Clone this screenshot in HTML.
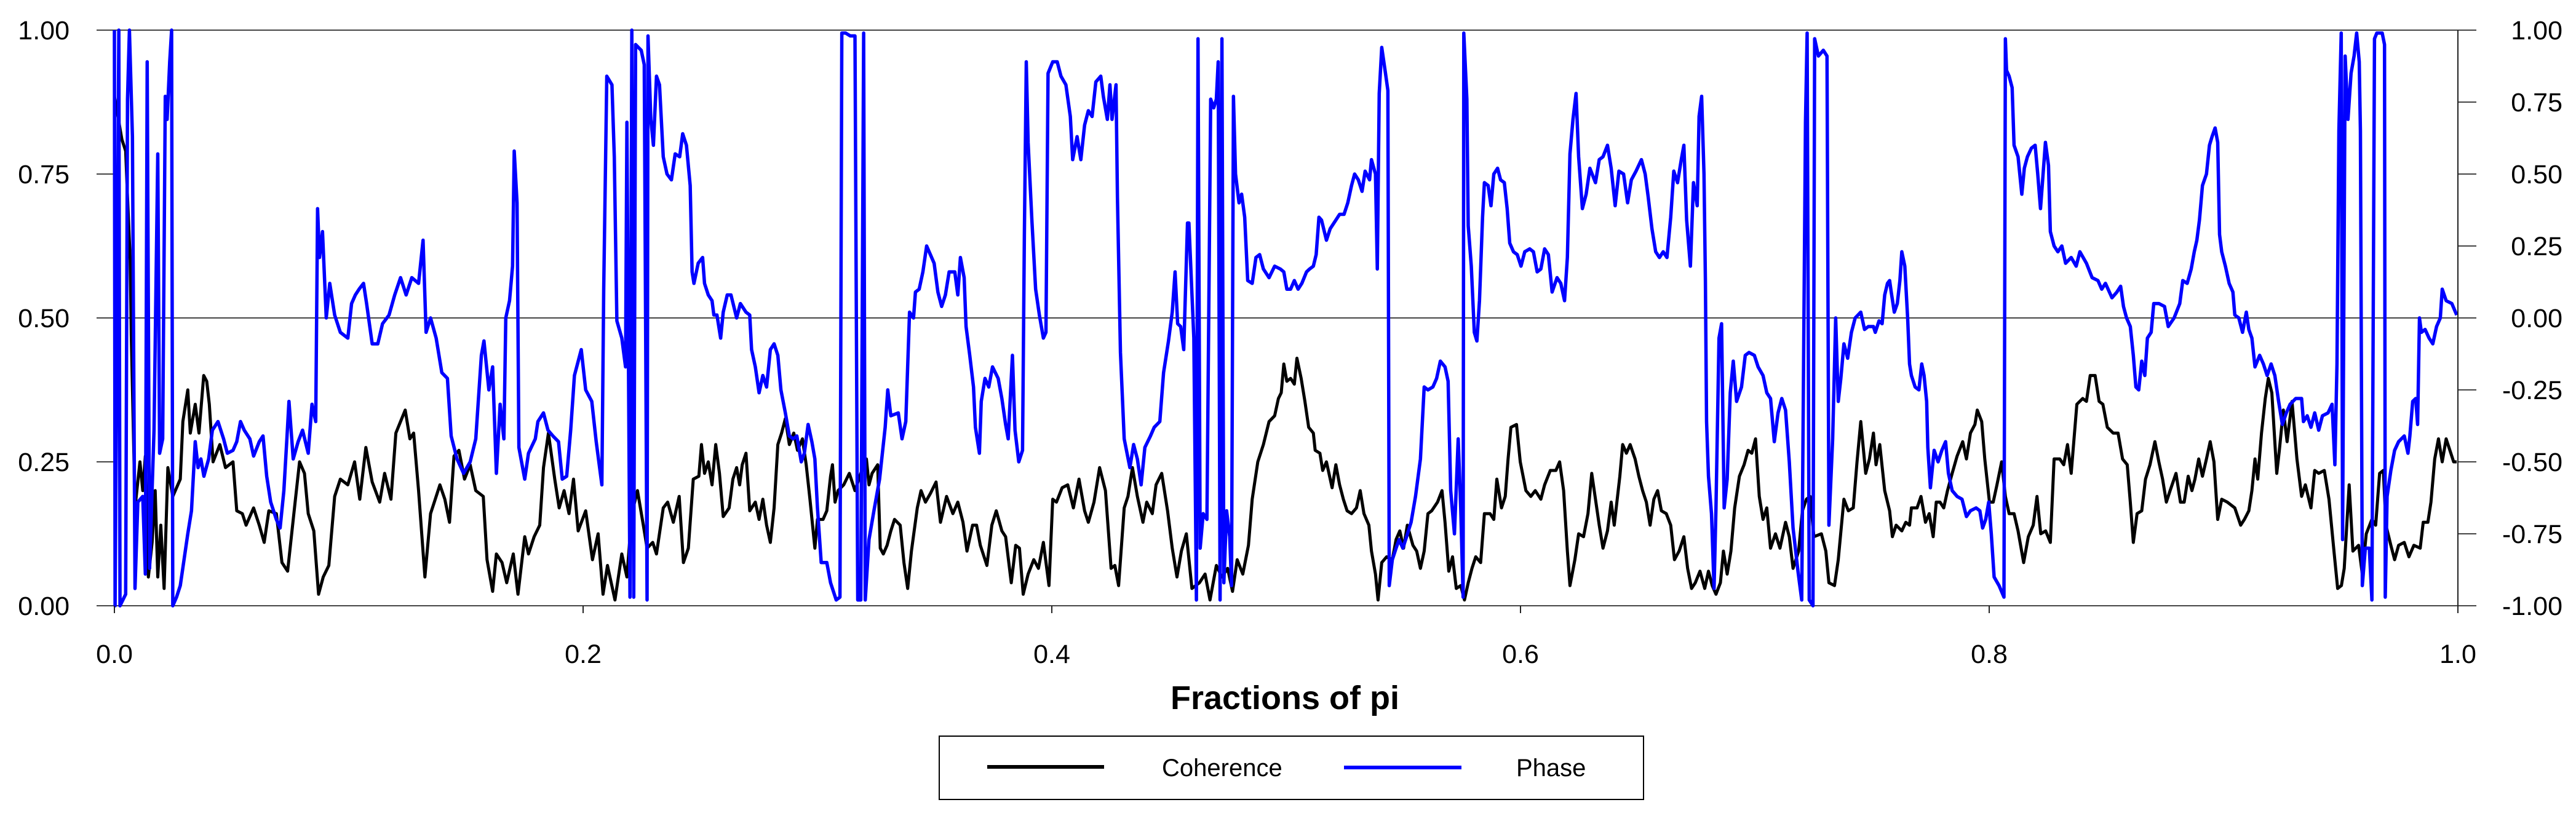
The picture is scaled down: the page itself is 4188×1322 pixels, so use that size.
<!DOCTYPE html>
<html><head><meta charset="utf-8"><style>
html,body{margin:0;padding:0;background:#fff;}
svg{display:block;font-family:"Liberation Sans",Arial,sans-serif;}
</style></head>
<body>
<svg id="chart" width="4188" height="1322" viewBox="0 0 4188 1322" xmlns="http://www.w3.org/2000/svg">
<g id="grid"></g>
<g id="series"></g>
<g id="axes"></g>
<text x="2089" y="1153" font-size="54" font-weight="bold" text-anchor="middle">Fractions of pi</text>
<g>
<rect x="1527" y="1197" width="1145" height="103" fill="#fff" stroke="#000" stroke-width="2"/>
<line x1="1605" y1="1247" x2="1795" y2="1247" stroke="#000" stroke-width="6"/>
<text x="1889" y="1262" font-size="40">Coherence</text>
<line x1="2185" y1="1248" x2="2376" y2="1248" stroke="#0000ff" stroke-width="6"/>
<text x="2465" y="1262" font-size="40">Phase</text>
</g>
</svg>
<script>
// x in thousandths of pi
const cohX=[0,3.2,4.8,5.6,6.75,7.2,8,8.8,10.9,12.1,13.2,14.5,16.1,17.4,18.5,19.8,21.2,22.8,24.9,28.1,29.2,31.3,32.4,34.5,36.1,38.1,39.4,40.5,42.1,45,47.4,50.6,52.2,54.6,56.2,59.4,61.8,63.9,65.9,69.1,71.5,73.9,77.1,79,81.1,82.7,85.1,87.1,89.1,91.5,94,96.4,99.6,102.5,104.7,107.3,110,113.2,115.3,118,120.1,122.1,124.1,126.1,127.7,129.8,132.5,134.9,136.5,138.9,141,143,144.9,147,149.4,151.8,154.2,157.4,159,161.4,163,165.4,167.4,170.2,172.2,175.1,176.7,179.1,181.5,183.1,185.2,187.9,189.8,191.9,194,195.9,197.9,201.1,204,206.4,208.5,210.4,213.6,216.5,218.7,220.8,223.2,225.7,227.3,229.7,231.3,234.2,236.1,238.5,241,242.8,244.9,247,
249.4,250.5,251.8,253.4,255,256.6,258.2,259.8,262.3,263.9,265.5,266.8,267.9,269.5,271.1,273.5,275.1,276.7,278.3,279.9,281.5,283.1,284.7,286.3,288,289.9,291.5,293.6,295.2,296.8,298.9,300,302.4,304,305.6,306.4,307.5,308.8,311.2,313.6,316,318.5,320.9,322,323.3,325.7,326.8,328.1,329.7,331.3,332.9,335.3,336.9,338.5,340.1,342.6,344.2,346.1,348.2,350.6,352.5,355.1,357.8,359.9,362.1,363.8,366.2,367.9,369.5,372.3,374.4,376.3,378.7,380.3,382.7,384.6,386.2,387.8,389.9,392.3,394.3,396.4,398.8,400.4,402,404.4,406.8,409.2,411.6,414,415.6,418,420.4,422.9,425.3,426.9,428.5,430.9,432.5,434.4,436.5,438.9,440.5,442.9,444.5,446.9,449.4,451.4,453.4,455.3,457.4,459.8,463,465.4,467.5,470.2,472.6,475,477.1,479.1,481.5,483.9,485.5,487.9,490.3,492.7,495.1,496.7,
497.9,499,500.3,501.9,503.5,504.6,506.4,508,509.6,511.6,512.4,514.4,515.6,517.2,519.6,521.2,522.8,524.4,526,527.9,530,531.6,533.2,535.3,536.4,538.1,539.2,540.8,542.9,545.3,546.9,548.5,550.1,551.7,554.1,555.7,557.3,558.9,560.5,562.1,564.6,566.5,567.8,569.4,571,572.6,574.5,576.1,577.7,579.3,580.9,583,584.6,587,588.6,589.9,591.9,593.5,594.7,595.9,598.3,599.9,602.3,604.4,606.3,608.7,610.3,612.7,615.1,616.7,618.4,620,621.1,623.2,624.8,626.9,628.8,630.4,632,633.6,635.2,637.1,638.7,640,642.4,643.6,645.2,646.8,648.9,650.5,652.1,653.7,655.3,656.9,658.5,660.1,662.2,664.1,665.7,667.7,669.7,671.3,673,674.6,676.6,678.6,680.2,681.8,683.4,685.3,686.6,688.2,689.8,691.4,693.4,695.4,697.1,698.7,700.3,701.9,703.5,705.1,706.7,708.8,710.7,713.1,714.7,716.3,718.7,720.3,722,723.6,725.2,728.4,730.3,731.6,734,735.6,738,739.9,742,743.6,745.2,
747.3,748.9,750.6,751.7,753.3,755.4,757.5,758.7,760.3,762.7,764.4,766,766.8,769.2,770.9,772.8,774.4,776.1,777.4,779,780.6,782.2,784.2,786.3,788.7,790.3,792,793.9,794.9,796.8,798.1,800.1,801.7,803.3,805.3,806.9,808.5,810.6,812.3,814.7,816.7,818.8,820.4,822,824.1,826.1,827.7,830.1,831.8,833.4,835,837.4,839.9,841.5,843.1,845.2,846.9,848.5,850.4,852.9,855,856.9,858.9,860.2,861.5,863.1,865.1,866.7,868.6,870.7,872.4,874,875.6,877.2,879.7,881.6,883.2,884.9,886.5,887.8,889.4,891,892.7,894.3,895.9,897.5,899.2,901.6,904.8,907.3,908.9,910.8,912.1,913.4,914.6,916.2,917.8,919.1,920.6,922.7,923.8,925.5,927.1,929.2,931.3,933.3,934.9,937.3,938.9,940.6,943,945,947.1,948.7,950.3,951.5,953.6,955.2,957.6,959.2,960.9,963.3,964.9,966.6,968.2,969.3,971.4,973,974.7,977.1,979.1,981.2,983.9,985.2,987.2,988.5,990.1,991.7,993.3,995,996.6,998.2,999.5];
const cohY=[0.885,0.81,0.79,0.71,0.6,0.47,0.32,0.17,0.25,0.2,0.26,0.05,0.11,0.2,0.05,0.14,0.03,0.24,0.19,0.22,0.32,0.375,0.3,0.35,0.3,0.4,0.39,0.35,0.25,0.28,0.24,0.25,0.165,0.16,0.14,0.17,0.14,0.11,0.165,0.16,0.075,0.06,0.18,0.25,0.23,0.16,0.13,0.02,0.05,0.07,0.19,0.22,0.21,0.25,0.185,0.275,0.215,0.18,0.23,0.185,0.3,0.32,0.34,0.29,0.3,0.2,0.05,0.16,0.18,0.21,0.185,0.145,0.26,0.27,0.22,0.245,0.2,0.19,0.08,0.025,0.09,0.075,0.04,0.09,0.02,0.12,0.09,0.12,0.14,0.24,0.3,0.22,0.17,0.2,0.16,0.22,0.13,0.165,0.08,0.125,0.02,0.07,0.01,0.09,0.05,0.16,0.2,0.14,0.1,0.11,0.09,0.17,0.18,0.145,0.19,0.075,0.1,0.22,
0.225,0.28,0.23,0.25,0.21,0.28,0.23,0.155,0.17,0.22,0.24,0.21,0.245,0.265,0.165,0.18,0.15,0.185,0.14,0.11,0.17,0.28,0.3,0.325,0.28,0.3,0.27,0.29,0.245,0.185,0.1,0.15,0.15,0.165,0.225,0.245,0.18,0.2,0.21,0.23,0.2,0.23,0.255,0.21,0.23,0.245,0.1,0.09,0.105,0.13,0.15,0.14,0.075,0.03,0.095,0.17,0.2,0.18,0.195,0.215,0.145,0.19,0.16,0.18,0.145,0.095,0.14,0.14,0.105,0.07,0.14,0.165,0.13,0.12,0.04,0.105,0.1,0.02,0.055,0.08,0.065,0.11,0.035,0.185,0.18,0.205,0.21,0.17,0.22,0.165,0.145,0.18,0.24,0.2,0.065,0.07,0.035,0.17,0.19,0.24,0.19,0.145,0.18,0.16,0.21,0.23,0.165,0.1,0.05,0.095,0.125,0.03,0.04,0.055,0.01,0.07,0.05,0.065,0.025,0.08,0.055,0.105,0.185,0.25,0.28,0.32,0.33,0.36,
0.37,0.42,0.39,0.395,0.385,0.43,0.395,0.355,0.31,0.3,0.27,0.265,0.235,0.25,0.205,0.245,0.21,0.185,0.165,0.16,0.17,0.2,0.16,0.14,0.095,0.055,0.01,0.075,0.085,0.08,0.115,0.13,0.1,0.14,0.105,0.095,0.065,0.095,0.16,0.165,0.18,0.2,0.145,0.06,0.085,0.03,0.035,0.01,0.04,0.065,0.085,0.075,0.16,0.16,0.15,0.22,0.17,0.19,0.255,0.31,0.315,0.25,0.2,0.19,0.2,0.185,0.21,0.235,0.235,0.25,0.2,0.095,0.035,0.08,0.125,0.12,0.16,0.23,0.185,0.14,0.1,0.13,0.18,0.14,0.225,0.28,0.265,0.28,0.255,0.225,0.2,0.18,0.14,0.185,0.2,0.165,0.16,0.14,0.08,0.095,0.12,0.065,0.03,0.04,0.06,0.03,0.06,0.035,0.02,0.04,0.095,0.055,0.095,0.17,0.225,0.245,0.27,0.265,0.29,0.19,0.15,0.17,0.1,0.125,0.1,0.145,0.12,0.065,0.095,0.165,0.185,0.19,0.12,0.125,0.095,0.04,0.035,0.08,0.185,0.165,0.17,0.25,0.32,
0.23,0.255,0.3,0.245,0.28,0.2,0.165,0.12,0.14,0.13,0.145,0.14,0.17,0.17,0.19,0.145,0.16,0.12,0.18,0.18,0.17,0.2,0.23,0.26,0.285,0.255,0.3,0.315,0.34,0.32,0.255,0.18,0.18,0.21,0.25,0.19,0.16,0.16,0.13,0.075,0.12,0.14,0.19,0.125,0.13,0.11,0.255,0.255,0.245,0.28,0.23,0.35,0.36,0.355,0.4,0.4,0.355,0.35,0.31,0.3,0.3,0.255,0.245,0.18,0.11,0.16,0.165,0.22,0.245,0.285,0.25,0.22,0.18,0.2,0.23,0.18,0.18,0.225,0.2,0.22,0.255,0.225,0.255,0.285,0.25,0.15,0.185,0.18,0.17,0.14,0.15,0.165,0.2,0.255,0.22,0.3,0.36,0.395,0.37,0.23,0.27,0.34,0.285,0.355,0.255,0.19,0.21,0.17,0.235,0.23,0.235,0.185,0.095,0.03,0.035,0.065,0.21,0.095,0.105,0.055,0.125,0.15,0.14,0.23,0.235,0.14,0.105,0.08,0.105,0.11,0.085,0.105,0.1,0.145,0.145,0.18,0.255,0.29,0.25,0.29,0.27,0.25,0.25];
const phaseX=[0,0.3,1.9,2.4,4.8,5.6,6.4,7.7,8.8,10,12.1,13.2,14,15,16.9,18.5,19.3,20.6,21.7,22.5,23.6,24.4,24.9,26.5,28.1,29.7,31.3,32.9,34.5,35.7,36.9,38.2,40.2,41.8,44.2,46.6,48.2,50.6,52.2,53.8,55.4,57.8,59.4,61.8,63.4,65,66.7,69.1,70.7,72.3,73.6,74.5,76.3,78.4,80.3,82.7,84.3,85.9,86.7,87.5,88.8,90.4,91.9,94,96.4,99.6,101.2,102.8,104.4,106.3,107.6,110,112.4,114.4,117.2,119.6,122.1,124.5,126.9,129.8,131.7,133,134.9,137.3,139.7,142.1,143.7,146.2,149,151.8,154.2,156.6,157.7,159.8,161.4,163,164.6,166.2,167,168.6,169.9,170.6,171.8,172.6,175.1,176.7,179.6,180.7,183.1,185,187.1,189.5,191.1,193,194.7,196.3,199.2,201.1,203.7,205.6,208,208.8,210.1,212.3,213.3,214.4,216.5,218.1,218.7,220,220.8,221.6,222.4,224.8,226.1,227.3,227.7,228.9,230,231.3,232.6,234.2,235.8,237.7,239.3,241.2,242.5,244.1,245.7,246.5,247.3,
249.1,251,251.8,253.4,255,255.8,257.1,258.7,259.8,261.5,263.1,265.5,267.1,269.5,271.1,271.9,273.5,275.1,276.7,278.3,279.9,281.5,283.1,284.4,286.3,288,289.6,291.2,293.1,294.4,296,297.6,298.9,300,301.6,304,305.6,308,309.6,310.4,312,314,316,317.2,318.5,319.7,320.4,322,324.1,326.5,328.9,330,331.3,334.5,336.1,337.7,339.3,341,341.8,343.4,345,346.6,348.2,349.8,351.4,353,354.6,356.2,358.6,359.9,361,362.6,363.4,365,366.6,367.4,369.1,369.9,371.5,373.1,374.7,377.1,378.7,380.3,381.4,383.2,384.3,385.9,387.5,388.3,389.1,389.9,391.5,393.1,394.7,396.4,397.5,398.4,400.4,402.3,403.9,406,407.9,408.9,410.8,412.4,414,415.6,417.2,418.8,420.9,422,423.7,424.8,425.7,427.4,428,429.3,430.9,433.3,434.9,436.5,438.1,439.7,442.1,443.7,446.1,447.7,449.8,451.4,452.6,453.7,455,456.3,457.9,458.5,460.6,461.7,462.4,463.3,464.6,466.2,467.8,469.1,470.2,471,471.8,472.6,473.4,474.6,475.9,476.7,477.5,478.4,479.9,481,482.3,483.6,485.5,487.1,488.7,490.3,492.7,495.1,497.5,
499,500.3,501.9,503.5,505.1,506.7,508.7,510,511.6,512.8,514,515.1,517.2,518.8,521.2,522.8,524.7,526.3,527.9,529.2,530.8,532.4,533.7,535.6,536.4,538.1,538.9,539.7,540.8,542.4,543.4,544,545.3,546.9,548.2,549.8,551.4,553.3,555.2,557.3,558.9,560.5,562.6,564.2,565.8,567.8,569.1,570.2,571.8,573.4,574.5,575.5,575.8,577.1,577.7,579,580.3,581.4,582.5,583.8,584.6,586.2,587.4,588.6,590.2,591.5,593.1,594.3,595.4,597,598.6,600.2,601.8,603.9,605.5,607.1,608.7,610.3,611.9,613.5,615.6,617.2,618.8,620,621.1,622.4,623.7,624.8,626.4,628,629.6,632,633.6,635.2,637.1,638.7,640.4,642,644,645.7,647.3,649.3,651.6,653.2,654.5,656.1,657.7,659.3,660.9,662.5,664.1,665.4,667,668.6,669.7,670.9,672.5,673.8,675.4,676.2,677.3,678.3,678.9,679.4,680.2,681.5,682.6,683.4,684.7,685.8,686.9,688.2,689.5,690.8,692.2,694.3,695.9,697.5,699.8,701.4,703.5,705.1,706.7,708.3,709.9,711.5,713.1,714.7,716.3,718.4,720,721.6,722.3,723.2,724.8,725.5,727.1,729.2,730.8,731.6,733.2,734.5,735.6,736.7,738,739.6,741.2,742.8,745.2,746.8,
748.4,750.6,751.4,753,754.3,755.4,756.6,757.5,758.2,759.5,760.8,761.9,762.7,764,765.2,766,766.8,768.4,770,771.2,772.2,773.3,773.8,774.9,776.5,778.2,779.8,781.4,782.6,784.2,786.3,788.4,790.3,792,794.4,796,797.2,798.5,799.8,800.9,802.1,804.2,806.3,806.9,807.4,808.5,809.8,810.6,812.3,813.9,815,816.3,818,819.6,820.7,821.9,822.8,824,825.3,826.1,827.7,829.3,831,832.6,835,837.1,838.7,841.5,843.9,846.4,848,849.6,852.4,854.5,856.1,857.3,858.6,860.2,861.5,862.6,863.8,865.1,866.4,867.5,869.1,870.2,872.4,874.8,876.4,878.9,881.3,882.6,884.5,886.2,887.5,888.6,889.7,891,892.7,894,895.1,896.4,897.5,898.3,899.2,900.8,902.4,904,904.8,906.5,908.1,909.7,910.8,912.1,913.4,915.4,917,918.6,920.3,921.9,923.5,925.1,926.8,928.4,930.8,933.3,934.1,935.7,937.3,938.9,940.6,942.2,944.6,946.3,947.5,948.4,949.2,950.2,950.8,951.9,953.1,954.4,955.7,956.8,957.9,958.4,959.2,960.5,962.2,963.3,964.4,965.4,967.7,968.7,969,969.8,971.4,973,974.7,977.1,978.7,979.5,980.7,982,982.8,983.6,984.4,986,987.7,989.3,990.9,992.5,993.3,995,997.4,999.5];
const phaseY=[1,-1,1,-1,-0.96,0.76,1,0.63,-0.94,-0.64,-0.62,-0.89,0.89,-0.87,-0.39,0.57,-0.47,-0.42,0.77,0.69,0.89,1,-1,-0.97,-0.93,-0.84,-0.75,-0.67,-0.43,-0.52,-0.49,-0.55,-0.49,-0.39,-0.36,-0.42,-0.47,-0.46,-0.43,-0.36,-0.39,-0.42,-0.48,-0.43,-0.41,-0.55,-0.64,-0.7,-0.73,-0.6,-0.42,-0.29,-0.49,-0.43,-0.39,-0.47,-0.3,-0.36,0.38,0.21,0.3,0,0.12,0.01,-0.05,-0.07,0.05,0.08,0.1,0.12,0.05,-0.09,-0.09,-0.02,0.01,0.08,0.14,0.08,0.14,0.12,0.27,-0.05,0,-0.07,-0.19,-0.21,-0.41,-0.49,-0.54,-0.5,-0.42,-0.13,-0.08,-0.25,-0.17,-0.54,-0.3,-0.42,0,0.06,0.18,0.58,0.4,-0.45,-0.56,-0.47,-0.42,-0.36,-0.33,-0.39,-0.41,-0.43,-0.56,-0.55,-0.39,-0.2,-0.11,-0.25,-0.29,-0.43,-0.58,0.1,0.84,0.81,0.56,-0.01,-0.07,-0.17,0.68,-0.97,1,-0.97,0.95,0.93,0.88,-0.98,0.98,0.69,0.6,0.84,0.81,0.56,0.5,0.48,0.57,0.56,0.64,0.6,0.46,0.16,0.12,
0.19,0.21,0.12,0.08,0.06,0.01,0.01,-0.07,0.02,0.08,0.08,0,0.05,0.02,0.01,-0.11,-0.17,-0.26,-0.2,-0.24,-0.11,-0.09,-0.13,-0.25,-0.33,-0.41,-0.42,-0.41,-0.5,-0.47,-0.37,-0.43,-0.49,-0.66,-0.85,-0.85,-0.92,-0.98,-0.97,0.99,0.99,0.98,0.98,-0.98,-0.98,0.99,-0.98,-0.77,-0.67,-0.56,-0.38,-0.25,-0.34,-0.33,-0.42,-0.36,0.02,0,0.09,0.1,0.16,0.25,0.22,0.19,0.09,0.04,0.08,0.16,0.16,0.08,0.21,0.14,-0.03,-0.13,-0.24,-0.38,-0.47,-0.29,-0.21,-0.24,-0.17,-0.21,-0.28,-0.37,-0.42,-0.13,-0.39,-0.5,-0.46,0.29,0.89,0.61,0.34,0.1,0.01,-0.07,-0.05,0.85,0.89,0.89,0.84,0.81,0.7,0.55,0.63,0.55,0.67,0.72,0.7,0.82,0.84,0.77,0.69,0.81,0.69,0.81,0.42,-0.12,-0.42,-0.52,-0.44,-0.49,-0.58,-0.45,-0.41,-0.38,-0.36,-0.19,-0.08,0.02,0.16,-0.02,-0.03,-0.11,0.33,0.33,-0.07,-0.98,0.97,-0.8,-0.68,-0.7,0.76,0.73,0.76,0.89,-0.98,0.97,-0.92,-0.67,-0.76,-0.93,0.77,0.5,0.4,0.43,0.35,0.13,0.12,0.21,0.22,0.17,0.14,0.18,0.17,
0.16,0.1,0.1,0.13,0.1,0.12,0.16,0.17,0.18,0.22,0.35,0.34,0.27,0.31,0.34,0.36,0.36,0.4,0.46,0.5,0.48,0.44,0.51,0.48,0.55,0.5,0.17,0.78,0.94,0.85,0.79,-0.93,-0.84,-0.8,-0.77,-0.8,-0.76,-0.71,-0.62,-0.49,-0.24,-0.25,-0.24,-0.21,-0.15,-0.17,-0.22,-0.6,-0.75,-0.42,-0.66,-0.97,0.99,0.76,0.32,0.18,-0.05,-0.08,0.06,0.35,0.47,0.46,0.39,0.5,0.52,0.48,0.47,0.38,0.26,0.23,0.22,0.18,0.23,0.24,0.23,0.16,0.17,0.24,0.22,0.09,0.14,0.12,0.06,0.21,0.57,0.69,0.78,0.56,0.38,0.43,0.52,0.47,0.55,0.56,0.6,0.52,0.39,0.51,0.5,0.4,0.48,0.51,0.55,0.5,0.42,0.31,0.23,0.21,0.23,0.21,0.35,0.51,0.47,0.55,0.6,0.34,0.18,0.47,0.39,0.7,0.77,0.5,0.13,-0.36,-0.55,-0.68,-0.94,-0.66,-0.07,-0.02,-0.66,-0.56,-0.26,-0.15,-0.29,-0.24,-0.13,-0.12,-0.13,-0.17,-0.2,-0.26,-0.28,-0.43,-0.33,-0.28,-0.32,-0.5,-0.73,-0.88,-0.98,0.68,0.99,-0.98,-1,0.97,0.91,0.93,0.91,-0.72,-0.42,0,-0.29,-0.21,-0.09,-0.14,-0.05,0,0.02,-0.04,
-0.03,-0.03,-0.05,-0.01,-0.02,0.08,0.12,0.13,0.09,0.02,0.05,0.13,0.23,0.18,0,-0.16,-0.2,-0.24,-0.25,-0.16,-0.2,-0.29,-0.45,-0.59,-0.46,-0.5,-0.46,-0.43,-0.54,-0.6,-0.62,-0.63,-0.69,-0.67,-0.66,-0.67,-0.73,-0.7,-0.64,-0.75,-0.9,-0.93,-0.97,0.97,0.86,0.84,0.8,0.6,0.56,0.43,0.52,0.56,0.59,0.6,0.5,0.38,0.48,0.61,0.53,0.3,0.25,0.23,0.25,0.19,0.21,0.18,0.23,0.19,0.14,0.13,0.1,0.12,0.07,0.09,0.11,0.04,0,-0.03,-0.13,-0.24,-0.25,-0.15,-0.2,-0.07,-0.05,0.05,0.05,0.04,-0.03,0,0.05,0.13,0.12,0.17,0.23,0.27,0.34,0.46,0.5,0.6,0.63,0.66,0.61,0.29,0.23,0.18,0.12,0.09,0.01,0,-0.05,0.02,-0.04,-0.07,-0.17,-0.13,-0.16,-0.2,-0.16,-0.2,-0.29,-0.37,-0.33,-0.3,-0.28,-0.28,-0.36,-0.34,-0.38,-0.33,-0.39,-0.34,-0.33,-0.3,-0.51,-0.16,0.65,0.99,-0.77,0.91,0.69,0.85,0.91,0.99,0.89,0.65,-0.93,-0.8,-0.8,-0.98,0.97,0.99,0.99,0.95,-0.97,-0.62,-0.53,-0.46,-0.43,-0.41,-0.47,-0.41,-0.29,-0.28,-0.37,0,-0.05,-0.04,-0.07,-0.09,-0.03,0,0.1,0.06,0.05,0.01];
const leftTicks=["0.00","0.25","0.50","0.75","1.00"];
const rightTicks=["-1.00","-0.75","-0.50","-0.25","0.00","0.25","0.50","0.75","1.00"];
const xTicks=["0.0","0.2","0.4","0.6","0.8","1.0"];

const L=186,R=3996,T=49,B=985;
const NS="http://www.w3.org/2000/svg";
const xS=v=>L+(v/1000)*(R-L);
const yL=v=>B-v*(B-T);
const yR=v=>B-(v+1)/2*(B-T);
function mk(tag,attrs,parent){const e=document.createElementNS(NS,tag);for(const k in attrs)e.setAttribute(k,attrs[k]);parent.appendChild(e);return e;}
const grid=document.getElementById('grid'),axes=document.getElementById('axes'),ser=document.getElementById('series');

leftTicks.forEach((t,i)=>{const v=parseFloat(t);const y=yL(v);
 const full=(v===0||v===0.5||v===1);
 const ln=mk('line',{x1:157,y1:y,x2:full?4026:L,y2:y,stroke:'#444','stroke-width':2},grid);
 
 
 const tx=mk('text',{x:113,y:y+15,'font-size':43,'text-anchor':'end'},axes);tx.textContent=t;
 
 });
rightTicks.forEach(t=>{const y=yR(parseFloat(t));
 const ln=mk('line',{x1:R,y1:y,x2:4026,y2:y,stroke:'#444','stroke-width':2},axes);
 
 
 const tx=mk('text',{x:4166,y:y+15,'font-size':43,'text-anchor':'end'},axes);tx.textContent=t;
 
 });
const ra=mk('line',{x1:R,y1:T,x2:R,y2:B+12,stroke:'#222','stroke-width':2},axes);


xTicks.forEach(t=>{const x=xS(parseFloat(t)*1000);
 const ln=mk('line',{x1:x,y1:B,x2:x,y2:B+12,stroke:'#222','stroke-width':2},axes);
 
 
 const tx=mk('text',{x:x,y:1078,'font-size':43,'text-anchor':'middle'},axes);tx.textContent=t;
 
 });

function pts(xs,ys,yf){return xs.map((x,i)=>xS(x).toFixed(1)+','+yf(ys[i]).toFixed(1)).join(' ');}
const pc=mk('polyline',{points:pts(cohX,cohY,yL),fill:'none',stroke:'#000','stroke-width':5,'stroke-linejoin':'round'},ser);


const pp=mk('polyline',{points:pts(phaseX,phaseY,yR),fill:'none',stroke:'#0000ff','stroke-width':5.5,'stroke-linejoin':'round'},ser);


</script>
</body></html>
